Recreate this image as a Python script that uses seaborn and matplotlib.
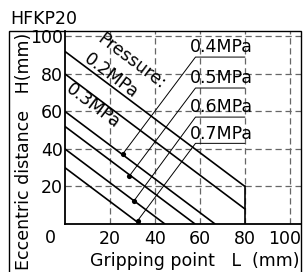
import pandas as pd
import seaborn as sns
import matplotlib.pyplot as plt
from matplotlib.patches import Rectangle
from matplotlib.transforms import ScaledTranslation

# Limit lines per pressure: start on the H axis, end on the envelope
pressures = ['0.2MPa', '0.3MPa', '0.4MPa', '0.5MPa', '0.6MPa', '0.7MPa']
h_start = [92, 80, 60, 52, 40, 30]
l_end = [80, 80, 66.7, 57.8, 44.4, 33.3]
h_end = [20, 8, 0, 0, 0, 0]

# Marked points on the 0.4-0.7MPa lines and where their labels sit
dot_l = [25.6, 28.6, 30.7, 32.3]
dot_h = [37.2, 25.6, 12.4, 1.8]
label_h = [89, 72.5, 57, 43]
label_l0 = 58
label_l1 = 80

x_ticks = [20, 40, 60, 80, 100]
y_ticks = [20, 40, 60, 80, 100]

sns.set_style('white')
plt.rcParams['font.family'] = ['DejaVu Sans']
plt.rcParams['text.color'] = 'black'
plt.rcParams['xtick.color'] = 'black'
plt.rcParams['ytick.color'] = 'black'
fs = 12.5

fig = plt.figure(figsize=(3.04, 2.72), dpi=100)
ax = fig.add_axes([65 / 304, 48 / 272, 236 / 304, 193 / 272])

lines = pd.DataFrame({
    'pressure': pressures * 2,
    'L': [0] * len(pressures) + l_end,
    'H': h_start + h_end,
})
sns.lineplot(data=lines, x='L', y='H', units='pressure', estimator=None,
             color='black', lw=1.2, sort=False, ax=ax, legend=False)
# envelope edge at the max gripping point
ax.plot([l_end[0], l_end[0]], [0, h_end[0]], color='black', lw=1.2)

# leader lines from dots to underlined labels
n = len(dot_l)
leaders = pd.DataFrame({
    'label': pressures[2:] * 3,
    'L': dot_l + [label_l0] * n + [label_l1] * n,
    'H': dot_h + label_h + label_h,
})
sns.lineplot(data=leaders, x='L', y='H', units='label', estimator=None,
             color='black', lw=0.7, sort=False, ax=ax, legend=False)
sns.scatterplot(x=dot_l, y=dot_h, color='black', s=14, ax=ax, zorder=5, linewidth=0)

for name, h in zip(pressures[2:], label_h):
    ax.text(label_l0 - 2.6, h + 0.4, name, ha='left', va='bottom', fontsize=fs)

rot = -37
ax.text(29.5, 87.0, 'Pressure:', rotation=rot, ha='center', va='center',
        rotation_mode='anchor', fontsize=fs)
ax.text(20.5, 79.0, pressures[0], rotation=rot, ha='center', va='center',
        rotation_mode='anchor', fontsize=fs)
ax.text(12.5, 63.0, pressures[1], rotation=rot, ha='center', va='center',
        rotation_mode='anchor', fontsize=fs)

ax.set_xlim(0, 104.9)
ax.set_ylim(0, 102.9)
ax.set_xticks(x_ticks)
ax.set_yticks(y_ticks)
ax.tick_params(length=0, labelsize=fs)
ax.tick_params(axis='x', pad=4.5)
ax.tick_params(axis='y', pad=1.5)
# last x label sits against the frame edge
last = ax.get_xticklabels()[-1]
last.set_transform(last.get_transform() + ScaledTranslation(-5 / 100, 0, fig.dpi_scale_trans))
ax.text(-6.7, -7.2, '0', ha='center', va='center', fontsize=fs, clip_on=False)
ax.set_xlabel('')
ax.set_ylabel('')

ax.grid(True, ls=(0, (5, 3)), color='#666666', lw=0.9)
ax.set_axisbelow(True)
for side in ['top', 'right']:
    ax.spines[side].set_visible(False)
for side in ['left', 'bottom']:
    ax.spines[side].set_color('black')
    ax.spines[side].set_linewidth(1.3)

# outer frame around the chart and its axis title
fig.add_artist(Rectangle((9 / 304, -0.05), 292 / 304, 241 / 272 + 0.05,
                         transform=fig.transFigure, fill=False, lw=1.0, ec='black'))

fig.text(10 / 304, 1 - 19 / 272, 'HFKP20', ha='left', va='center', fontsize=fs)
fig.text(300 / 304, 11 / 272, 'Gripping point   L  (mm)', ha='right', va='center', fontsize=fs)
fig.text(24 / 304, 121 / 272, 'Eccentric distance   H(mm)', rotation=90,
         ha='center', va='center', fontsize=fs)

fig.savefig('out.png', dpi=100)
